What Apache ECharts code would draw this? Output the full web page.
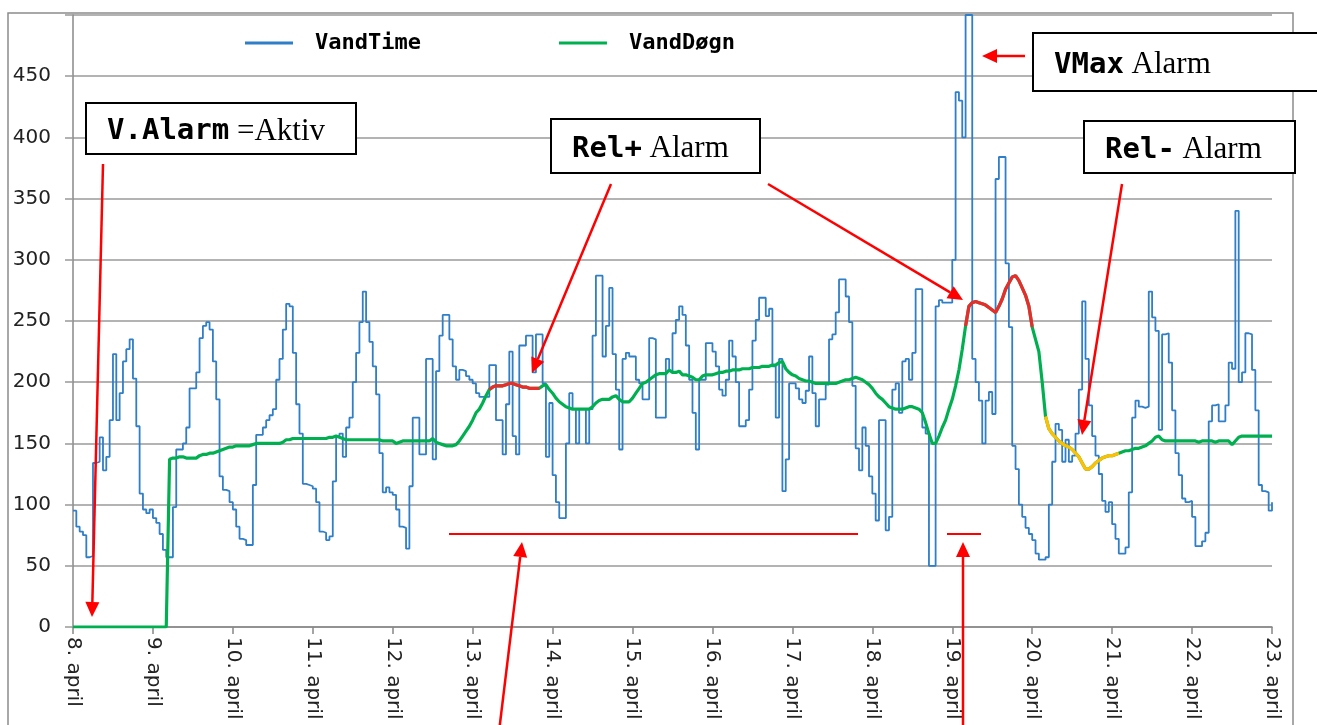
<!DOCTYPE html>
<html>
<head>
<meta charset="UTF-8">
<title>VandTime / VandDøgn</title>
<script src="https://cdn.jsdelivr.net/npm/echarts@6/dist/echarts.min.js"></script>
<style>
  html, body { margin: 0; padding: 0; background: #fff; }
  #main { width: 1317px; height: 725px; }
</style>
</head>
<body>
<div id="main"></div>
<script>
// dag-etiketter, en pr. 24 timer
var dayLabels = ['8. april', '9. april', '10. april', '11. april', '12. april', '13. april', '14. april', '15. april',
  '16. april', '17. april', '18. april', '19. april', '20. april', '21. april', '22. april', '23. april'];

// VandTime, en værdi pr. time fra 8. april kl. 00
var vandTime = [
  95, 82, 78, 75, 57, 58, 134, 135, 155, 128, 139, 169, 223, 169, 191, 217, 227, 235, 203, 164, 109, 96, 93, 96,
  89, 85, 76, 63, 57, 57, 98, 145, 145, 150, 163, 195, 195, 208, 236, 246, 249, 243, 217, 186, 123, 112, 111, 102,
  96, 82, 72, 71, 67, 67, 116, 157, 157, 163, 169, 173, 178, 202, 219, 243, 264, 262, 224, 182, 158, 117, 116, 115,
  113, 102, 78, 77, 71, 74, 119, 156, 158, 139, 163, 171, 200, 224, 249, 274, 249, 233, 213, 190, 142, 110, 114, 110,
  108, 96, 82, 81, 64, 115, 171, 171, 141, 141, 219, 219, 137, 209, 238, 255, 255, 235, 213, 202, 210, 209, 205, 202,
  199, 191, 188, 188, 188, 214, 214, 169, 169, 141, 182, 225, 156, 141, 230, 230, 238, 238, 208, 239, 239, 199, 139, 183,
  124, 102, 89, 89, 150, 191, 178, 150, 178, 178, 150, 178, 238, 287, 287, 221, 246, 277, 223, 194, 145, 219, 224, 221,
  221, 202, 199, 186, 186, 236, 235, 171, 171, 171, 219, 209, 240, 251, 262, 255, 230, 202, 175, 145, 202, 202, 232, 232,
  225, 213, 194, 189, 202, 234, 221, 200, 164, 164, 169, 194, 234, 251, 269, 269, 254, 260, 213, 171, 219, 111, 137, 199,
  199, 195, 186, 183, 193, 221, 191, 164, 186, 186, 198, 235, 239, 257, 284, 284, 270, 249, 197, 146, 128, 163, 148, 123,
  109, 87, 169, 169, 79, 90, 194, 199, 175, 217, 219, 202, 224, 276, 276, 163, 158, 50, 50, 262, 267, 265, 265, 265,
  300, 437, 430, 400, 500, 500, 219, 200, 185, 150, 185, 192, 174, 366, 384, 384, 297, 245, 148, 129, 100, 90, 81, 76,
  71, 60, 55, 55, 57, 100, 135, 166, 161, 135, 153, 135, 140, 158, 194, 266, 219, 181, 156, 140, 125, 103, 94, 102,
  84, 72, 60, 60, 65, 110, 171, 185, 180, 179, 180, 274, 253, 242, 161, 239, 240, 216, 177, 142, 124, 105, 102, 103,
  90, 66, 66, 70, 77, 168, 181, 182, 168, 168, 181, 216, 211, 340, 200, 208, 240, 239, 210, 177, 116, 111, 110, 95,
  102
];

// VandDøgn (24 t glidende), en værdi pr. time
var vandDogn = [
  0, 0, 0, 0, 0, 0, 0, 0, 0, 0, 0, 0, 0, 0, 0, 0, 0, 0, 0, 0, 0, 0, 0, 0,
  0, 0, 0, 0, 0, 137, 138, 138, 139, 139, 138, 138, 138, 138, 140, 141, 141, 142, 142, 143, 144, 145, 146, 147,
  147, 148, 148, 148, 148, 148, 149, 150, 150, 150, 150, 150, 150, 150, 150, 151, 153, 153, 154, 154, 154, 154, 154, 154,
  154, 154, 154, 154, 154, 155, 155, 156, 155, 154, 153, 153, 153, 153, 153, 153, 153, 153, 153, 153, 153, 152, 152, 152,
  152, 150, 151, 152, 152, 152, 152, 152, 152, 152, 152, 152, 154, 151, 150, 149, 148, 148, 148, 149, 152, 156, 160, 164,
  169, 175, 178, 183, 189, 194, 196, 197, 197, 197, 198, 199, 199, 198, 197, 196, 196, 195, 195, 195, 195, 197, 198, 194,
  191, 187, 184, 182, 180, 179, 178, 178, 178, 178, 178, 178, 180, 183, 185, 186, 186, 186, 188, 189, 186, 184, 184, 184,
  187, 191, 195, 199, 200, 202, 204, 206, 207, 207, 207, 210, 208, 208, 209, 206, 206, 205, 204, 202, 202, 205, 206, 206,
  206, 207, 208, 208, 209, 209, 210, 210, 210, 211, 211, 211, 212, 212, 212, 213, 213, 213, 214, 214, 216, 217, 211, 208,
  206, 205, 203, 202, 201, 201, 200, 199, 199, 199, 199, 199, 199, 199, 200, 201, 202, 202, 203, 204, 203, 202, 200, 198,
  195, 191, 188, 186, 183, 180, 179, 178, 178, 178, 179, 180, 180, 179, 178, 175, 167, 158, 150, 150, 156, 163, 169, 178,
  186, 197, 210, 227, 246, 262, 265, 266, 265, 264, 263, 261, 259, 257, 262, 268, 276, 281, 286, 287, 283, 277, 271, 262,
  245, 235, 225, 200, 172, 162, 158, 155, 152, 150, 148, 147, 145, 142, 139, 134, 129, 129, 131, 134, 136, 138, 139, 140,
  140, 141, 142, 143, 144, 144, 145, 146, 146, 147, 148, 150, 152, 155, 156, 153, 152, 152, 152, 152, 152, 152, 152, 152,
  152, 152, 151, 152, 152, 152, 152, 151, 152, 152, 152, 152, 149, 152, 155, 156, 156, 156, 156, 156, 156, 156, 156, 156,
  156
];

// timer hvor alarmerne er aktive (fra, til)
var relPlusHours = [[125, 140], [268, 288]];
var relMinusHours = [[292, 314]];

function pairs(arr) {
  return arr.map(function (v, i) { return [i, v]; });
}

function pickRanges(arr, ranges) {
  return arr.map(function (v, i) {
    for (var k = 0; k < ranges.length; k++) {
      if (i >= ranges[k][0] && i <= ranges[k][1]) return [i, v];
    }
    return [i, '-'];
  });
}

// rød pil med spids
function arrow(x1, y1, x2, y2) {
  var dx = x2 - x1, dy = y2 - y1, len = Math.sqrt(dx * dx + dy * dy);
  var ux = dx / len, uy = dy / len;
  var hl = 15, hw = 7;
  var bx = x2 - ux * hl, by = y2 - uy * hl;
  return [
    { type: 'line', z: 100, shape: { x1: x1, y1: y1, x2: bx, y2: by }, style: { stroke: '#ff0000', lineWidth: 2.5 } },
    { type: 'polygon', z: 100, shape: { points: [[x2, y2], [bx - uy * hw, by + ux * hw], [bx + uy * hw, by - ux * hw]] },
      style: { fill: '#ff0000' } }
  ];
}

function redLine(x1, x2, y) {
  return { type: 'line', z: 100, shape: { x1: x1, y1: y, x2: x2, y2: y }, style: { stroke: '#ff0000', lineWidth: 2 } };
}

function box(x, y, w, h, mono, serif) {
  return [
    { type: 'rect', z: 100, shape: { x: x, y: y, width: w, height: h }, style: { fill: '#fff', stroke: '#000', lineWidth: 2 } },
    { type: 'text', z: 101, x: x + 21, y: y + h / 2 + 3,
      style: {
        text: '{m|' + mono + '}{s| ' + serif + '}',
        verticalAlign: 'middle',
        rich: {
          m: { fontFamily: 'DejaVu Sans Mono', fontWeight: 'bold', fontSize: 29, fill: '#000' },
          s: { fontFamily: 'Liberation Serif', fontSize: 31, fill: '#000' }
        }
      } }
  ];
}

var graphics = [
  { type: 'rect', z: -1, shape: { x: 8, y: 13, width: 1285, height: 730 }, style: { fill: 'none', stroke: '#8c8c8c', lineWidth: 1.5 } }
];
graphics = graphics.concat(
  box(86, 103, 270, 51, 'V.Alarm', '=Aktiv'),
  box(551, 119, 209, 54, 'Rel+', 'Alarm'),
  box(1033, 33, 300, 58, 'VMax', 'Alarm'),
  box(1084, 121, 211, 52, 'Rel-', 'Alarm'),
  arrow(103, 164, 92, 617),
  arrow(611, 184, 532, 373),
  arrow(768, 184, 963, 300),
  arrow(1025, 56, 982, 56),
  arrow(1122, 184, 1082, 435),
  arrow(498, 740, 522, 542),
  arrow(963, 740, 963, 542),
  [redLine(449, 858, 534), redLine(947, 981, 534)]
);

var myChart = echarts.init(document.getElementById('main'));
myChart.setOption({
  animation: false,
  backgroundColor: '#fff',
  grid: { left: 73, right: 45, top: 15, bottom: 98 },
  legend: {
    data: ['VandTime', 'VandDøgn'],
    icon: 'rect',
    left: 240,
    top: 27,
    itemWidth: 48,
    itemHeight: 3,
    itemGap: 138,
    textStyle: { fontFamily: 'DejaVu Sans Mono', fontWeight: 'bold', fontSize: 22, color: '#000', padding: [0, 0, 0, 17] }
  },
  xAxis: {
    type: 'value',
    min: 0,
    max: 360,
    interval: 24,
    axisLine: { lineStyle: { color: '#888', width: 1.5 } },
    axisTick: { length: 7, lineStyle: { color: '#888', width: 1.5 } },
    splitLine: { show: false },
    axisLabel: {
      rotate: -90,
      margin: 10,
      color: '#222',
      fontFamily: 'DejaVu Sans',
      fontSize: 20,
      formatter: function (v) { return dayLabels[Math.round(v / 24)] || ''; }
    }
  },
  yAxis: {
    type: 'value',
    min: 0,
    max: 500,
    interval: 50,
    axisLine: { show: true, lineStyle: { color: '#888', width: 1.5 } },
    axisTick: { show: true, length: 8, lineStyle: { color: '#999', width: 1.5 } },
    splitLine: { lineStyle: { color: '#9a9a9a', width: 1.5 } },
    axisLabel: {
      margin: 22,
      color: '#222',
      fontFamily: 'DejaVu Sans',
      fontSize: 20,
      formatter: function (v) { return v === 500 ? '' : v; }
    }
  },
  series: [
    {
      name: 'VandTime', type: 'line', step: 'end', symbol: 'none',
      data: pairs(vandTime),
      lineStyle: { color: '#2e7ec8', width: 1.8 },
      itemStyle: { color: '#2e7ec8' },
      z: 2
    },
    {
      name: 'VandDøgn', type: 'line', symbol: 'none',
      data: pairs(vandDogn),
      lineStyle: { color: '#00b050', width: 3.2 },
      itemStyle: { color: '#00b050' },
      z: 3
    },
    {
      name: 'Rel+', type: 'line', symbol: 'none',
      data: pickRanges(vandDogn, relPlusHours),
      lineStyle: { color: '#ee2b2b', width: 3.2 },
      z: 4
    },
    {
      name: 'Rel-', type: 'line', symbol: 'none',
      data: pickRanges(vandDogn, relMinusHours),
      lineStyle: { color: '#ffc000', width: 3.2 },
      z: 4
    }
  ],
  graphic: graphics
});
</script>
</body>
</html>
